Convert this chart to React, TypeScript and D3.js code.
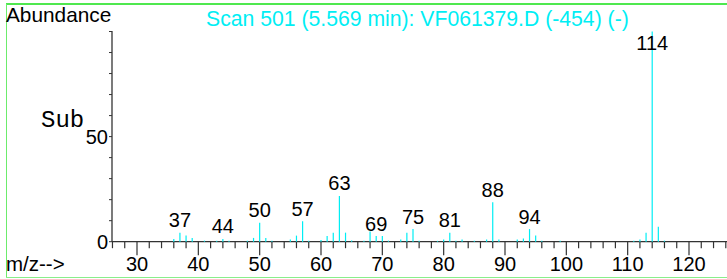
import React from 'react';
import * as d3 from 'd3';

// m/z and relative abundance of each ion
const mz = [36, 37, 38, 39, 41, 43, 44, 45, 48, 49, 50, 51, 52, 55, 56, 57, 58, 60, 61, 62, 63, 64, 65, 67, 68, 69, 70, 71, 73, 74, 75, 76, 79, 80, 81, 82, 83, 85, 87, 88, 89, 92, 93, 94, 95, 96, 99, 111, 112, 113, 114, 115, 116];
const abundance = [1.3, 4.3, 2.9, 1.8, 0.5, 0.5, 1.3, 0.4, 0.5, 1.8, 9.0, 1.8, 0.4, 1.1, 2.9, 9.7, 0.4, 0.8, 2.7, 4.3, 21.8, 4.3, 0.6, 0.5, 4.8, 2.7, 2.7, 0.5, 1.1, 4.3, 6.0, 0.5, 0.4, 1.0, 4.3, 0.5, 1.0, 0.4, 1.0, 18.8, 1.0, 1.0, 1.5, 6.0, 2.9, 0.4, 0.5, 0.4, 1.0, 4.3, 100, 7.1, 0.5];
const labelledPeaks = [37, 44, 50, 57, 63, 69, 75, 81, 88, 94, 114];
const xTickLabels = [30, 40, 50, 60, 70, 80, 90, 100, 110, 120];
const yTickLabels = [0, 50];

const title = 'Scan 501 (5.569 min): VF061379.D (-454) (-)';

const W = 727;
const H = 279;
const sans = '"Liberation Sans", Arial, Helvetica, sans-serif';
const cyan = '#00eef4';
const axisColor = '#333';

export default function App() {
  const x = d3.scaleLinear().domain([30, 120]).range([137, 689]);
  const y = d3.scaleLinear().domain([0, 100]).range([241.7, 31.5]);
  const axisLeft = 112;
  const xStart = x.invert(axisLeft);
  const xEnd = x.invert(W);

  const minorX = d3.range(Math.ceil(xStart / 2) * 2, xEnd, 2);
  const yTicks = d3.range(0, 101, 10);
  const peaks = mz.map((m, i) => ({ m, v: abundance[i] }));
  const byMz = new Map(peaks.map(p => [p.m, p.v]));

  return (
    <svg width={W} height={H} style={{ position: 'absolute', left: 0, top: 0, background: '#fff' }}>
      {/* frame */}
      <line x1={6} x2={W} y1={4} y2={4} stroke="#4fe84f" strokeWidth={2} />
      <line x1={6.5} x2={6.5} y1={4} y2={278} stroke="#6cec6c" strokeWidth={1} />
      <line x1={6} x2={W} y1={277.5} y2={277.5} stroke="#8aee8a" strokeWidth={1} />

      <text x={6} y={22} fontFamily={sans} fontSize={20.8} fill="#000">Abundance</text>
      <text x={206} y={25.5} fontFamily={sans} fontSize={21.2} fill={cyan}>{title}</text>

      {/* y axis */}
      <line x1={axisLeft} x2={axisLeft} y1={y(100) - 0.5} y2={y(0)} stroke={axisColor} strokeWidth={1.3} />
      {yTicks.map(t => (
        <line key={'yt' + t} x1={axisLeft - 3} x2={axisLeft} y1={y(t)} y2={y(t)} stroke={axisColor} strokeWidth={1} />
      ))}
      {yTickLabels.map(t => (
        <text key={'yl' + t} x={108} y={y(t) + 7} textAnchor="end" fontFamily={sans} fontSize={20} fill="#000">{t}</text>
      ))}
      <text x={41} y={127} fontFamily='"Courier New", "Liberation Mono", monospace' fontSize={24} fill="#000">Sub</text>

      {/* x axis */}
      <line x1={axisLeft} x2={W} y1={y(0)} y2={y(0)} stroke={axisColor} strokeWidth={1.3} />
      {minorX.map(t => (
        <line key={'xt' + t} x1={x(t)} x2={x(t)} y1={y(0)} y2={y(0) + (t % 10 === 0 ? 13.5 : 6.5)} stroke={axisColor} strokeWidth={1.2} />
      ))}
      {xTickLabels.map(t => (
        <text key={'xl' + t} x={x(t)} y={271} textAnchor="middle" fontFamily={sans} fontSize={20} fill="#000">{t}</text>
      ))}
      <text x={6} y={271} fontFamily={sans} fontSize={20.5} fill="#000">m/z--&gt;</text>

      {/* peaks */}
      {peaks.map(p => (
        <line key={'p' + p.m} x1={x(p.m)} x2={x(p.m)} y1={y(0)} y2={y(p.v)} stroke={cyan} strokeWidth={1.2} />
      ))}
      {labelledPeaks.map(m => (
        <text key={'pl' + m} x={x(m)} y={Math.max(y(byMz.get(m) || 0) - 5.5, 49.5)} textAnchor="middle" fontFamily={sans} fontSize={20} fill="#000">{m}</text>
      ))}
    </svg>
  );
}
